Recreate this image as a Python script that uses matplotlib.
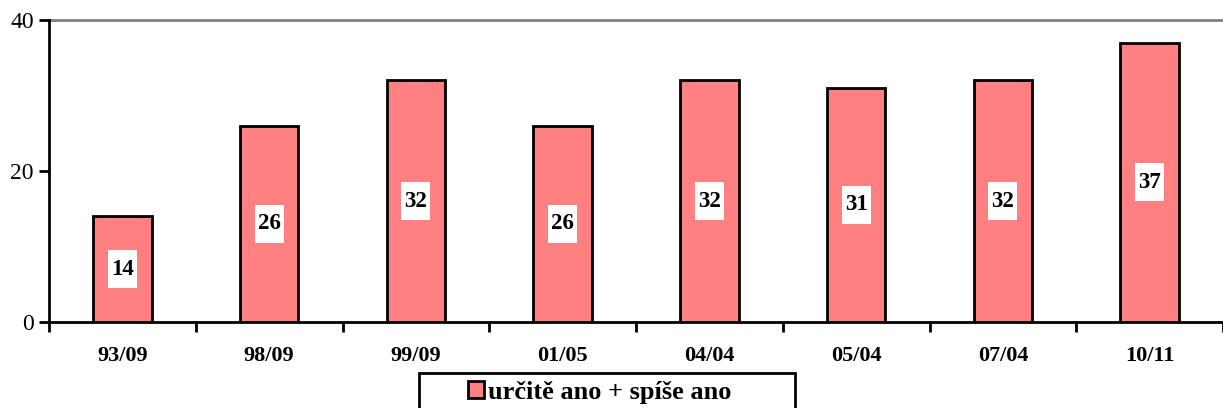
import matplotlib
matplotlib.use("Agg")
import matplotlib.pyplot as plt
from matplotlib.patches import Rectangle
import matplotlib.transforms as mtransforms
import numpy as np

categories = ["93/09", "98/09", "99/09", "01/05", "04/04", "05/04", "07/04", "10/11"]
values = [14, 26, 32, 26, 32, 31, 32, 37]
series_name = "určitě ano + spíše ano"
yticks = [0, 20, 40]

plt.rcParams['font.family'] = ['Liberation Serif', 'DejaVu Serif']

W, H = 1223, 408
fig = plt.figure(figsize=(W / 100, H / 100), dpi=100)
ax = fig.add_axes([49 / W, 1 - 322 / H, (1223 - 49) / W, (322 - 20) / H])

x = np.arange(len(categories))
bars = ax.bar(x, values, width=0.4, color="#FF8080", edgecolor="black", linewidth=2,
              label=series_name, zorder=3)
ax.set_xlim(-0.5, len(categories) - 0.5)
ax.set_ylim(0, 40)

# value labels in white boxes (box size in inches, centred on bar middle)
bw, bh = 0.29, 0.38
for xi, v in zip(x, values):
    tr = fig.dpi_scale_trans + mtransforms.ScaledTranslation(xi, v / 2, ax.transData)
    ax.add_patch(Rectangle((-bw / 2, -bh / 2), bw, bh, transform=tr,
                           facecolor="white", edgecolor="none", zorder=4))
    ax.text(xi, v / 2, str(v), ha="center", va="center", fontsize=16.5,
            fontweight="bold", zorder=5)

ax.axhline(40, color="#808080", linewidth=2, zorder=1, clip_on=False)

for s in ["top", "right"]:
    ax.spines[s].set_visible(False)
ax.spines["left"].set_linewidth(2)
ax.spines["bottom"].set_linewidth(2)

ax.set_yticks(yticks)
ax.set_yticklabels([str(t) for t in yticks], fontsize=17)
ax.tick_params(axis="y", length=7, width=2, direction="out", pad=4)

ax.set_xticks(np.arange(len(categories) + 1) - 0.5)
ax.set_xticklabels([])
ax.set_xticks(x, minor=True)
ax.set_xticklabels(categories, minor=True, fontsize=16, fontweight="bold")
ax.tick_params(axis="x", which="major", length=7, width=2, direction="out")
ax.tick_params(axis="x", which="minor", length=0, pad=17)

# legend frame (extends below the figure edge as in the reference)
fig.patches.append(Rectangle((419 / W, -0.05), (795 - 419) / W, 0.05 + (H - 373) / H,
                             transform=fig.transFigure, facecolor="white",
                             edgecolor="black", linewidth=2, zorder=5))
leg = fig.legend(handles=[bars], labels=[series_name], loc="center left",
                 bbox_to_anchor=(468 / W, 1 - 392 / H), frameon=False,
                 prop=dict(size=19, weight="bold"), handlelength=0.62, handleheight=0.62,
                 handletextpad=0.15, borderpad=0, borderaxespad=0)
leg.set_zorder(6)
for h in leg.legend_handles:
    h.set_linewidth(2)

fig.savefig("out.png", dpi=100)
